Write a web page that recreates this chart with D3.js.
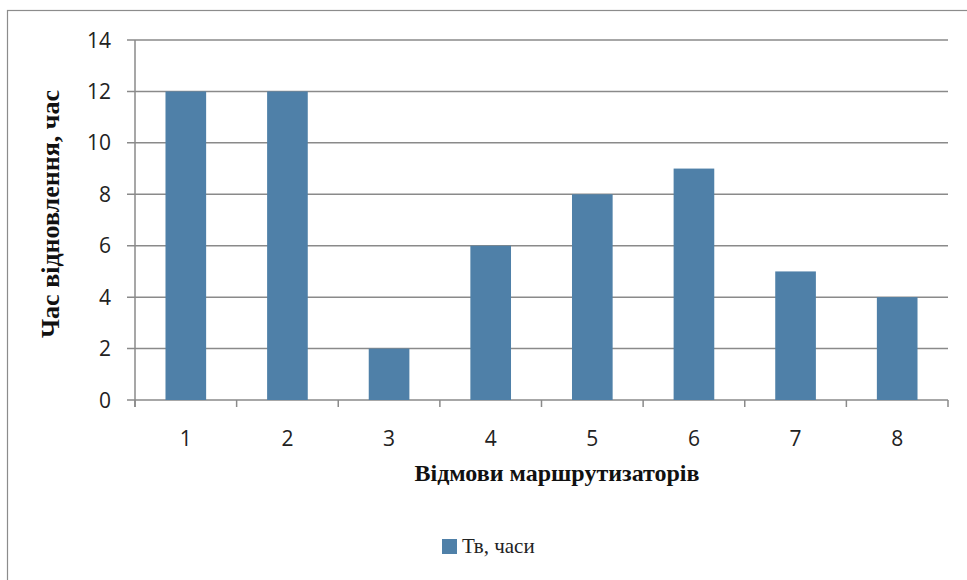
<!DOCTYPE html>
<html><head><meta charset="utf-8">
<script src="https://cdn.jsdelivr.net/npm/d3@7"></script>
<style>body{margin:0;background:#fff;}svg{display:block;}</style>
</head><body>
<svg id="c" width="967" height="580"></svg>
<script>
const categories = ["1","2","3","4","5","6","7","8"];
const values = [12, 12, 2, 6, 8, 9, 5, 4];
const yTicks = [0, 2, 4, 6, 8, 10, 12, 14];
const seriesName = "Тв, часи";
const xTitle = "Відмови маршрутизаторів";
const yTitle = "Час відновлення, час";

(function(){
const svg = d3.select("#c");
svg.append("rect").attr("x",7.5).attr("y",10.5).attr("width",1000).attr("height",600)
  .attr("fill","#fff").attr("stroke","#8c8c8c").attr("stroke-width",1.2);

const pL = 135, pR = 948, pT = 40, pB = 400;
const x = d3.scaleBand().domain(categories).range([pL, pR]).paddingInner(0.6).paddingOuter(0.3);
const xb = d3.scaleBand().domain(categories).range([pL, pR]);
const y = d3.scaleLinear().domain([0, 14]).range([pB, pT]);
const color = "#4f80a8";
const gridColor = "#8a8a8a";

svg.append("g").selectAll("line").data(yTicks).join("line")
  .attr("x1", pL - 8).attr("x2", pR)
  .attr("y1", d => y(d)).attr("y2", d => y(d))
  .attr("stroke", gridColor).attr("stroke-width", 1.5);

svg.append("line").attr("x1", pL).attr("x2", pL).attr("y1", pT).attr("y2", pB + 7)
  .attr("stroke", gridColor).attr("stroke-width", 1.5);

const bounds = categories.map(c => xb(c)).concat([pR]);
svg.append("g").selectAll("line").data(bounds).join("line")
  .attr("x1", d => d).attr("x2", d => d).attr("y1", pB).attr("y2", pB + 7)
  .attr("stroke", gridColor).attr("stroke-width", 1.5);

svg.append("g").selectAll("rect").data(values).join("rect")
  .attr("x", (d,i) => x(categories[i])).attr("width", x.bandwidth())
  .attr("y", d => y(d)).attr("height", d => y(0) - y(d))
  .attr("fill", color);

svg.append("g").selectAll("text").data(yTicks).join("text")
  .attr("x", pL - 24).attr("y", d => y(d)).attr("dy", "0.36em")
  .attr("text-anchor", "end").attr("font-family", "Open Sans, sans-serif")
  .attr("font-size", 21).attr("fill", "#222").text(d => d);

svg.append("g").selectAll("text").data(categories).join("text")
  .attr("x", d => xb(d) + xb.bandwidth()/2).attr("y", 446)
  .attr("text-anchor", "middle").attr("font-family", "Open Sans, sans-serif")
  .attr("font-size", 21).attr("fill", "#222").text(d => d);

svg.append("text").attr("x", 557).attr("y", 481).attr("text-anchor", "middle")
  .attr("font-family", "Liberation Serif, serif").attr("font-weight", "bold")
  .attr("font-size", 24).attr("fill", "#111").text(xTitle);
svg.append("text").attr("transform", "translate(59,214) rotate(-90)").attr("text-anchor", "middle")
  .attr("font-family", "Liberation Serif, serif").attr("font-weight", "bold")
  .attr("font-size", 26).attr("fill", "#111").text(yTitle);

svg.append("rect").attr("x", 442).attr("y", 539).attr("width", 15).attr("height", 15).attr("fill", color);
svg.append("text").attr("x", 462).attr("y", 553).attr("font-family", "Liberation Serif, serif")
  .attr("font-size", 21).attr("fill", "#222").text(seriesName);
})();
</script>
</body></html>
